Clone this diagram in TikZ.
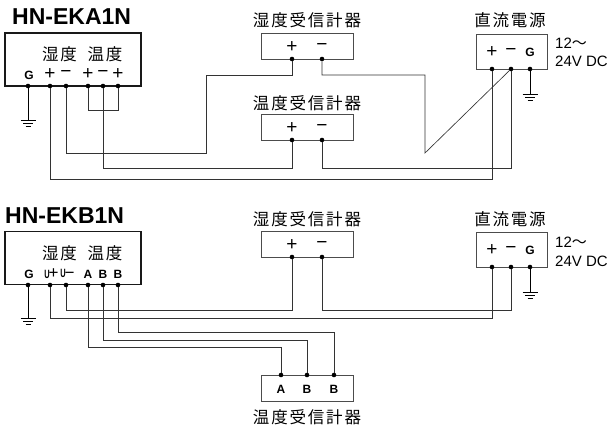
\documentclass[tikz,border=0pt]{standalone}
\usepackage{fontspec}
\setmainfont{Liberation Sans}
\newfontfamily\cjk[LetterSpace=11]{Noto Sans CJK JP}
\tikzset{
  wire/.style={draw=black!80, line width=0.65pt},
  termdot/.style={circle, fill=black, inner sep=0pt, minimum size=4.6pt},
  mainbox/.style={draw=black!90, line width=1.4pt, inner sep=0pt, minimum width=136pt, minimum height=53pt},
  rcvbox/.style={draw=black!70, line width=0.7pt, inner sep=0pt, minimum width=92pt, minimum height=26pt},
  psubox/.style={draw=black!70, line width=0.7pt, inner sep=0pt, minimum width=71pt, minimum height=35pt},
  sign/.style={inner sep=0pt, font=\fontsize{19}{19}\selectfont},
  letter/.style={inner sep=0pt, font=\fontsize{12}{12}\selectfont\bfseries},
  cjklabel/.style={inner sep=0pt, font=\fontsize{16.5}{17}\selectfont\cjk},
  dclabel/.style={inner sep=0pt, anchor=west, font=\fontsize{15}{16}\selectfont},
  devname/.style={inner sep=0pt, anchor=west, font=\fontsize{23}{24}\selectfont\bfseries},
}
\newcommand{\gndmark}[1]{
  \draw[line width=0.8pt] (#1) ++(-7.5,0) -- ++(15,0);
  \draw[line width=0.8pt] (#1) ++(-5,3) -- ++(10,0);
  \draw[line width=0.8pt] (#1) ++(-2.5,6) -- ++(5,0);
}
\begin{document}
\begin{tikzpicture}[x=1pt, y=-1pt]
  \useasboundingbox (0,0) rectangle (610,427);

  % upper wiring
  \node[devname] (titleA) at (12,17) {HN-EKA1N};
  \node[mainbox] (boxA) at (73,59.5) {};
  \node[cjklabel] (humA) at (59.5,54) {湿度};
  \node[cjklabel] (tmpA) at (105,54) {温度};
  \node[letter] (lblAg) at (29,75) {G};
  \foreach \name/\x/\txt in {Ahp/50/+, Ahm/66/−, Atp/88/+, Atm/103/−, Atq/118/+}
    \node[sign] (lbl\name) at (\x,74) {\txt};
  \foreach \name/\x in {Ag/28, Ahp/50, Ahm/66, Atp/88, Atm/103, Atq/118}
    \node[termdot] (\name) at (\x,86) {};

  \node[cjklabel] (nameR1) at (307,20) {湿度受信計器};
  \node[rcvbox] (boxR1) at (307,46) {};
  \node[sign] (lblR1p) at (292,47) {+};
  \node[sign] (lblR1m) at (322,47) {−};
  \node[termdot] (R1p) at (292,59) {};
  \node[termdot] (R1m) at (322,59) {};

  \node[cjklabel] (nameR2) at (307,103) {温度受信計器};
  \node[rcvbox] (boxR2) at (307,127) {};
  \node[sign] (lblR2p) at (292,128) {+};
  \node[sign] (lblR2m) at (322,128) {−};
  \node[termdot] (R2p) at (292,140) {};
  \node[termdot] (R2m) at (322,140) {};

  \node[cjklabel] (nameP1) at (510,20) {直流電源};
  \node[psubox] (boxP1) at (511.5,51.5) {};
  \node[sign] (lblP1p) at (492,52) {+};
  \node[sign] (lblP1m) at (511,52) {−};
  \node[letter] (lblP1g) at (530,52) {G};
  \node[termdot] (P1p) at (492,69) {};
  \node[termdot] (P1m) at (511,69) {};
  \node[termdot] (P1g) at (530,69) {};
  \node[dclabel] (vltP1a) at (555,43) {12{\cjk〜}};
  \node[dclabel] (vltP1b) at (555,61) {24V DC};

  \coordinate (gndA) at (28,120);
  \coordinate (gndP1) at (530,94);
  \draw[line width=0.8pt] (Ag) -- (gndA);
  \draw[line width=0.8pt] (P1g) -- (gndP1);
  \gndmark{gndA}
  \gndmark{gndP1}

  \draw[wire] (Atp) -- (88,110) -- (118,110) -- (Atq);
  \draw[wire] (Ahm) -- (66,153) -- (206,153) -- (206,75) -- (292,75) -- (R1p);
  \draw[wire] (R1m) -- (322,75) -- (425,75) -- (425,153) -- (P1m);
  \draw[wire] (Atm) -- (103,168) -- (292,168) -- (R2p);
  \draw[wire] (R2m) -- (322,168) -- (511,168) -- (P1m);
  \draw[wire] (Ahp) -- (50,179) -- (492,179) -- (P1p);

  % lower wiring
  \node[devname] (titleB) at (5,216) {HN-EKB1N};
  \node[mainbox] (boxB) at (73,258) {};
  \node[cjklabel] (humB) at (59.5,253) {湿度};
  \node[cjklabel] (tmpB) at (105,253) {温度};
  \node[letter] (lblBg) at (29,274) {G};
  \node[letter] (lblBhp) at (51.5,274) {\scalebox{0.62}[1]{U}\raisebox{-0.5pt}{\mdseries\fontsize{17}{17}\selectfont\kern-1pt+}};
  \node[letter] (lblBhm) at (67.5,274) {\scalebox{0.62}[1]{U}\raisebox{-0.5pt}{\mdseries\fontsize{17}{17}\selectfont\kern-1pt−}};
  \node[letter] (lblBa) at (88,274) {A};
  \node[letter] (lblBb) at (103,274) {B};
  \node[letter] (lblBc) at (118,274) {B};
  \foreach \name/\x in {Bg/28, Bhp/50, Bhm/66, Ba/88, Bb/103, Bc/118}
    \node[termdot] (\name) at (\x,285) {};

  \node[cjklabel] (nameR3) at (307,219) {湿度受信計器};
  \node[rcvbox] (boxR3) at (307,244) {};
  \node[sign] (lblR3p) at (292,245) {+};
  \node[sign] (lblR3m) at (322,245) {−};
  \node[termdot] (R3p) at (292,257) {};
  \node[termdot] (R3m) at (322,257) {};

  \node[cjklabel] (nameP2) at (510,219) {直流電源};
  \node[psubox] (boxP2) at (511.5,249.5) {};
  \node[sign] (lblP2p) at (492,250.5) {+};
  \node[sign] (lblP2m) at (511,250.5) {−};
  \node[letter] (lblP2g) at (530,250.5) {G};
  \node[termdot] (P2p) at (492,267) {};
  \node[termdot] (P2m) at (511,267) {};
  \node[termdot] (P2g) at (530,267) {};
  \node[dclabel] (vltP2a) at (555,242) {12{\cjk〜}};
  \node[dclabel] (vltP2b) at (555,261) {24V DC};

  \node[rcvbox] (boxR4) at (307,388) {};
  \node[letter] (lblR4a) at (281,389.5) {A};
  \node[letter] (lblR4b) at (307,389.5) {B};
  \node[letter] (lblR4c) at (334,389.5) {B};
  \node[termdot] (R4a) at (281,375) {};
  \node[termdot] (R4b) at (307,375) {};
  \node[termdot] (R4c) at (334,375) {};
  \node[cjklabel] (nameR4) at (307,417) {温度受信計器};

  \coordinate (gndB) at (28,318);
  \coordinate (gndP2) at (530,292);
  \draw[line width=0.8pt] (Bg) -- (gndB);
  \draw[line width=0.8pt] (P2g) -- (gndP2);
  \gndmark{gndB}
  \gndmark{gndP2}

  \draw[wire] (Bhm) -- (66,310) -- (292,310) -- (R3p);
  \draw[wire] (R3m) -- (322,310) -- (511,310) -- (P2m);
  \draw[wire] (Bhp) -- (50,318) -- (492,318) -- (P2p);
  \draw[wire] (Bc) -- (118,332) -- (334,332) -- (R4c);
  \draw[wire] (Bb) -- (103,340) -- (307,340) -- (R4b);
  \draw[wire] (Ba) -- (88,347) -- (281,347) -- (R4a);
\end{tikzpicture}
\end{document}
